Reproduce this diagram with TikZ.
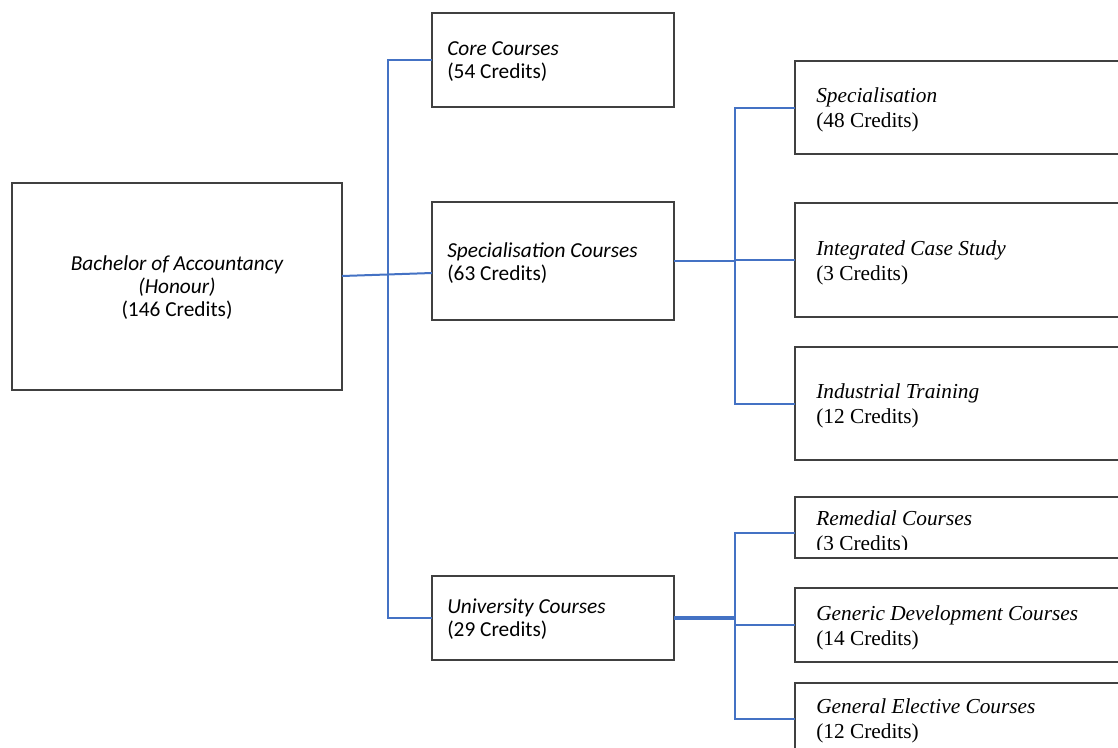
\documentclass[tikz,border=0pt]{standalone}
\usepackage{fontspec}
\setmainfont{Liberation Serif}
\newfontfamily\carl{Carlito}
\usetikzlibrary{calc}
\definecolor{boxgray}{HTML}{404040}
\definecolor{linkblue}{HTML}{4472C4}
\begin{document}
\begin{tikzpicture}[x=0.75pt,y=-0.75pt,
  box/.style={draw=boxgray, line width=0.9pt, rectangle, inner sep=0pt, outer sep=0pt, anchor=north west, minimum width=#1},
  box/.default=181.5pt,
  link/.style={draw=linkblue, line width=1.5pt},
  ltxt/.style={inner sep=0pt, anchor=base west, font=\carl\fontsize{16}{17.25}\selectfont},
  rtxt/.style={inner sep=0pt, anchor=base west, font=\fontsize{16}{18.75}\selectfont}]
\clip (0,0) rectangle (1118,747);
\fill[white] (0,0) rectangle (1118,747);
% boxes
\node[box=247.5pt, minimum height=155.25pt] (root) at (12,183) {};
\node[box, minimum height=70.5pt] (core) at (432,13) {};
\node[box, minimum height=88.5pt] (specc) at (432,202) {};
\node[box, minimum height=63pt] (univ) at (432,576) {};
\node[box=255pt, minimum height=69.75pt] (spec) at (795,61) {};
\node[box=255pt, minimum height=85.5pt] (integ) at (795,203) {};
\node[box=255pt, minimum height=84.75pt] (indus) at (795,347) {};
\node[box=255pt, minimum height=45.75pt] (rem) at (795,497) {};
\node[box=255pt, minimum height=55.5pt] (gdev) at (795,588) {};
\node[box=255pt, minimum height=54pt] (gel) at (795,683) {};
% texts
\node[inner sep=0pt, anchor=base, font=\carl\fontsize{16}{17.6}\selectfont] (troot) at (177,270)
  {\begin{tabular}[t]{@{}c@{}}\itshape Bachelor of Accountancy\\\itshape (Honour)\\(146 Credits)\end{tabular}};
\node[ltxt] (tcore) at (447,55) {\begin{tabular}[t]{@{}l@{}}\itshape Core Courses\\(54 Credits)\end{tabular}};
\node[ltxt] (tspecc) at (447,257) {\begin{tabular}[t]{@{}l@{}}\itshape Specialisation Courses\\(63 Credits)\end{tabular}};
\node[ltxt] (tuniv) at (447,613) {\begin{tabular}[t]{@{}l@{}}\itshape University Courses\\(29 Credits)\end{tabular}};
\node[rtxt] (tspec) at (816,102) {\begin{tabular}[t]{@{}l@{}}\itshape Specialisation\\(48 Credits)\end{tabular}};
\node[rtxt] (tinteg) at (816,255) {\begin{tabular}[t]{@{}l@{}}\itshape Integrated Case Study\\(3 Credits)\end{tabular}};
\node[rtxt] (tindus) at (816,398) {\begin{tabular}[t]{@{}l@{}}\itshape Industrial Training\\(12 Credits)\end{tabular}};
\begin{scope}
\clip (795,497) rectangle (1118,549);
\node[rtxt] (trem) at (816,525) {\begin{tabular}[t]{@{}l@{}}\itshape Remedial Courses\\(3 Credits)\end{tabular}};
\end{scope}
\node[rtxt] (tgdev) at (816,620) {\begin{tabular}[t]{@{}l@{}}\itshape Generic Development Courses\\(14 Credits)\end{tabular}};
\node[rtxt] (tgel) at (816,713) {\begin{tabular}[t]{@{}l@{}}\itshape General Elective Courses\\(12 Credits)\end{tabular}};
% connectors
\coordinate (tk) at (388,0);
\coordinate (st) at (735,0);
\draw[link] ($(root.east)+(0,-10.5)$) -- ($(specc.west)+(0,12)$);
\draw[link] (core.west) -| (tk |- univ.west) -- (univ.west);
\draw[link] (specc.east) -- (specc.east -| st);
\draw[link] (spec.west) -| (st |- indus.west) -- (indus.west);
\draw[link] (st |- integ.west) -- (integ.west);
\draw[link, line width=2.4pt] (univ.east) -- (univ.east -| st);
\draw[link] ($(rem.west)+(0,5.5)$) -| (st |- gel.west) -- (gel.west);
\draw[link] (st |- gdev.west) -- (gdev.west);
\end{tikzpicture}
\end{document}
